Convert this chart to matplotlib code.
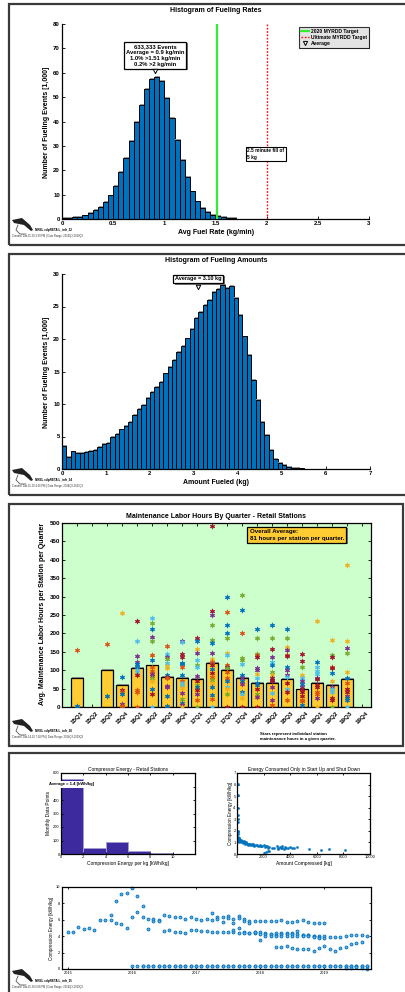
import matplotlib
matplotlib.use('Agg')
import matplotlib.pyplot as plt
from matplotlib.patches import Rectangle, Polygon
from matplotlib.lines import Line2D
import matplotlib.patheffects as pe
import numpy as np

plt.rcParams['font.family'] = ['Liberation Sans', 'DejaVu Sans']

# ---------------- DATA ----------------
rate_bin_width = 0.05
rate_counts = [0.3, 0.5, 0.7, 1.0, 1.5, 2.6, 3.6, 4.8, 7.0, 9.7,
               13.7, 19.2, 24.9, 32.0, 39.7, 46.9, 53.5, 57.5, 58.3, 56.6,
               49.8, 41.6, 32.6, 24.2, 17.2, 11.3, 7.2, 4.4, 2.8, 1.8,
               1.2, 0.7, 0.45, 0.3, 0.2, 0.15, 0.12, 0.1, 0.08, 0.07,
               0.06, 0.05, 0.05, 0.04, 0.04, 0.03, 0.03, 0.03, 0.02, 0.02,
               0.02, 0.02, 0.02, 0.01, 0.01, 0.01, 0.01, 0.01, 0.01, 0.01]
rate_avg = 0.91
rate_avg_marker_y = 60.7
target_2020 = 1.515
target_ultimate = 2.0
rate_note = "633,333 Events\nAverage = 0.9 kg/min\n1.0% >1.51 kg/min\n0.2% >2 kg/min"

amount_bin_width = 0.1
amount_counts = [3.6, 1.9, 2.7, 2.5, 2.45, 2.6, 2.8, 3.0, 3.4, 3.85,
                 4.0, 4.9, 5.4, 6.1, 6.6, 7.3, 8.3, 9.3, 9.9, 10.9,
                 11.9, 12.6, 13.4, 14.7, 15.7, 16.8, 18.0, 19.0, 20.1, 21.6,
                 23.2, 24.2, 25.2, 26.0, 27.2, 27.7, 28.35, 27.8, 28.2, 26.3,
                 23.7, 20.4, 17.6, 13.7, 10.6, 7.3, 5.2, 2.9, 1.6, 1.0,
                 0.6, 0.35, 0.2, 0.12, 0.08, 0.05, 0.04, 0.03, 0.02, 0.02,
                 0.02, 0.01, 0.01, 0.01, 0.01, 0.01, 0.01, 0.01, 0.01, 0.01]
amount_avg = 3.10
amount_avg_marker_y = 28.0

quarters = ['15Q1', '15Q2', '15Q3', '15Q4', '16Q1', '16Q2', '16Q3', '16Q4',
            '17Q1', '17Q2', '17Q3', '17Q4', '18Q1', '18Q2', '18Q3', '18Q4',
            '19Q1', '19Q2', '19Q3', '19Q4']
quarter_avg_hours = [80, 0, 100, 61, 106, 113, 82, 80, 77, 120, 100, 80,
                     65, 66, 77, 48, 65, 61, 76, 0]
star_values = [
    [155, 3],
    [],
    [172, 29],
    [255, 82, 47, 40, 36, 8, 4],
    [234, 180, 139, 123, 117, 110, 100, 96, 88, 45, 40, 0],
    [241, 227, 212, 191, 180, 142, 140, 128, 110, 98, 90, 85, 78, 72, 48, 36, 0],
    [165, 145, 136, 130, 120, 112, 105, 88, 82, 78, 58, 55, 30, 2],
    [180, 176, 145, 135, 119, 116, 108, 88, 72, 65, 58, 52, 38, 22, 10, 5, 0],
    [187, 178, 157, 148, 128, 115, 108, 85, 70, 60, 55, 45, 35, 18, 0],
    [492, 260, 249, 222, 182, 173, 148, 130, 122, 115, 102, 92, 82, 73, 65, 55, 32, 22, 0],
    [299, 257, 222, 202, 188, 148, 142, 115, 110, 105, 95, 80, 72, 55, 48, 34, 0],
    [305, 263, 201, 133, 128, 118, 86, 80, 70, 62, 40, 35, 25, 0],
    [211, 188, 145, 140, 135, 105, 100, 90, 78, 65, 60, 48, 35, 28, 0],
    [222, 188, 158, 135, 122, 115, 95, 88, 78, 74, 70, 55, 38, 20, 5],
    [211, 188, 162, 155, 142, 138, 108, 100, 88, 82, 65, 48, 40, 18],
    [143, 125, 108, 88, 78, 70, 62, 55, 48, 40, 30, 20, 15, 5],
    [235, 122, 110, 98, 90, 80, 75, 60, 55, 42, 35, 25, 0],
    [182, 140, 135, 110, 105, 93, 70, 55, 50, 40, 25, 20, 0],
    [387, 178, 160, 148, 95, 80, 65, 50, 40, 30, 25, 18, 0],
    [],
]
star_colors = [
    [1, 0],
    [],
    [1, 0],
    [2, 0, 6, 1, 0, 3, 1],
    [6, 5, 3, 3, 0, 0, 5, 5, 6, 1, 1, 1],
    [5, 4, 0, 3, 4, 2, 1, 0, 1, 1, 3, 3, 4, 2, 0, 6, 5],
    [1, 5, 3, 4, 5, 2, 2, 0, 6, 1, 3, 3, 0, 0],
    [3, 5, 6, 6, 0, 0, 1, 0, 1, 5, 5, 2, 3, 4, 0, 3, 2],
    [6, 0, 2, 3, 5, 4, 5, 3, 6, 4, 0, 6, 3, 1, 4],
    [6, 6, 3, 4, 4, 0, 3, 2, 1, 6, 0, 6, 1, 4, 2, 0, 0, 1, 5],
    [0, 1, 0, 0, 4, 2, 5, 1, 6, 4, 1, 1, 0, 5, 2, 4, 6],
    [4, 0, 1, 4, 4, 5, 0, 3, 0, 3, 0, 5, 2, 6],
    [0, 4, 4, 1, 6, 3, 3, 2, 5, 0, 0, 6, 4, 3, 6],
    [0, 4, 6, 3, 5, 0, 4, 2, 6, 6, 6, 3, 5, 3, 1],
    [0, 4, 2, 3, 1, 6, 0, 3, 3, 5, 6, 5, 6, 1],
    [6, 6, 4, 2, 5, 3, 0, 3, 6, 6, 6, 1, 1, 0],
    [2, 0, 5, 5, 5, 3, 6, 6, 6, 1, 1, 3, 2],
    [2, 4, 6, 1, 6, 0, 2, 3, 5, 5, 6, 6, 4],
    [2, 2, 3, 4, 2, 0, 1, 6, 6, 3, 0, 0, 5],
    [],
]
overall_avg_text = "Overall Average:\n81 hours per station per quarter."

comp_edges = [0, 2, 4, 6, 8, 10, 12]
comp_counts = [555, 42, 88, 25, 5, 0]

scatter_amount = [60, 70, 80, 50, 90, 60, 70, 100, 50, 80, 120, 150, 40, 100, 130, 200, 180,
                  250, 300, 350, 400, 450, 500, 550, 600, 650, 700, 750, 800, 850, 900,
                  950, 1000, 1100, 1200, 1300, 1400, 1500, 1600, 1700, 1800, 1900, 2000,
                  2100, 2200, 2300, 2400, 2600, 2800, 3000, 3100, 3200, 3300, 3400, 3500,
                  3600, 3700, 3800, 4000, 4100, 4300, 4500, 5400, 6300, 6900, 8100,
                  2050, 2150, 2300, 2400, 300, 500, 700, 1150, 1250, 1750, 2250, 3050, 3350]
scatter_energy = [6.05, 5.1, 4.0, 3.4, 3.0, 2.8, 2.0, 1.9, 1.7, 1.5, 1.4, 1.3, 1.2, 1.25, 1.35, 1.1, 1.0,
                  1.25, 1.0, 1.1, 1.15, 0.95, 1.05, 1.0, 0.9, 0.95, 1.0, 0.85, 0.9, 0.8, 0.85,
                  0.9, 0.8, 0.75, 0.9, 0.7, 0.8, 0.75, 0.7, 0.8, 0.65, 0.7, 0.75,
                  0.6, 0.65, 0.55, 0.6, 0.55, 0.5, 0.65, 0.45, 0.6, 0.5, 0.55, 0.45,
                  0.6, 0.5, 0.55, 0.6, 0.55, 0.5, 0.6, 0.45, 0.35, 0.4, 0.35,
                  0.05, 0.15, 0.25, 0.3, 1.2, 1.1, 0.95, 0.85, 0.8, 0.7, 0.7, 0.55, 0.65]

ts_years = [2015, 2016, 2017, 2018, 2019]
ts_s1_start = 2015.0
ts_s1 = [4.5, 4.5, 5.1, 4.9, 5.0, 4.8, 6.0, 6.0, 6.6, 8.3, 9.1, 9.3,
         9.9, 8.9, 7.7, 6.1, 6.1, 6.0, 6.6, 6.5, 6.3, 6.3, 6.1, 6.3,
         6.1, 6.0, 6.1, 6.8, 6.4, 6.3, 6.5, 6.1, 6.5, 6.1, 5.8, 5.9,
         5.9, 5.9, 5.9, 5.9, 6.0, 5.7, 5.7, 5.8, 6.0, 5.7, 5.6, 5.6,
         5.6]
ts_s2_start = 2015 + 8 / 12
ts_s2 = [6.0, 5.6, 5.5, 5.0,
         6.3, 6.9, 6.3, 4.9, 5.8, 5.8, 4.6, 4.7, 4.5, 4.5, 4.4, 4.7,
         4.7, 4.6, 4.6, 4.5, 4.5, 4.5, 4.5, 4.5, 4.4, 4.5, 4.4, 4.4,
         4.5, 4.4, 4.3, 4.4, 4.4, 4.4, 4.4, 4.3, 4.2, 4.1, 4.0, 4.0,
         4.0, 3.9, 3.9, 3.9, 4.0, 4.1, 4.1, 4.1, 4.0]
ts_s3_start = 2017 + 3 / 12
ts_s3 = [6.0, 6.1, 5.7, 6.2, 5.6, 6.2, 5.8, 5.6, 4.5,
         4.3, 4.3, 4.3, 4.2, 4.3, 4.3, 4.3, 4.6, 4.2, 4.1, 4.0, 3.9]
ts_s4_start = 2017 + 7 / 12
ts_s4 = [4.8, 5.0, 4.4, 4.4, 4.5, 3.5,
         4.0, 4.0, 4.0, 4.0, 4.0, 4.0, 4.0, 4.0, 4.0, 3.9, 3.8, 3.8]
ts_s5_start = 2018 + 3 / 12
ts_s5 = [2.7, 2.7, 2.8, 2.6, 2.4, 2.4, 2.5, 2.2, 2.6, 2.8, 2.5, 2.2, 2.6, 2.7, 3.0, 3.2, 3.3]
ts_s6_start = 2016.0
ts_s6 = [0.4, 0.4, 0.4, 0.4, 0.4, 0.4, 0.4, 0.4, 0.4, 0.4, 0.4, 0.4,
         0.4, 0.4, 0.4, 0.4, 0.4, 0.4, 0.4, 0.4, 0.4, 0.4, 0.4, 0.4,
         0.4, 0.4, 0.4, 0.4, 0.4, 0.4, 0.4, 0.4, 0.4, 0.4, 0.4, 0.4,
         0.4, 0.4, 0.4, 0.4, 0.4, 0.4, 0.4, 0.4, 0.4]
ts_s7_start = 2016 + 2 / 12
ts_s7 = [0.35, 0.35, 0.35, 0.35, 0.35, 0.35, 0.35, 0.35, 0.35, 0.35,
         0.35, 0.35, 0.35, 0.35, 0.35, 0.35, 0.35, 0.35, 0.35, 0.35,
         0.35, 0.35, 0.35, 0.35, 0.35, 0.35, 0.35, 0.35, 0.35, 0.35,
         0.35, 0.35, 0.35, 0.35, 0.35, 0.35, 0.35, 0.35, 0.35, 0.35, 0.35, 0.35, 0.35]
ts_s8_start = 2019 + 4 / 12
ts_s8 = [0.15, 0.1, 0.2, 0.1, 0.05]

# ---------------- FIGURE ----------------
W, H = 406, 992
fig = plt.figure(figsize=(W / 100, H / 100), dpi=100)


def add_ax(l, t, r, b):
    return fig.add_axes([l / W, 1 - b / H, (r - l) / W, (b - t) / H])


def T(x, y, s, **kw):
    kw.setdefault('ha', 'center')
    kw.setdefault('va', 'center')
    return fig.text(x / W, 1 - y / H, s, **kw)


def frame(l, t, r, b):
    fig.add_artist(Rectangle((l / W, 1 - b / H), (r - l) / W, (b - t) / H,
                             transform=fig.transFigure, fill=False,
                             ec='#3a3a3a', lw=1.6, zorder=10))


def logo(y0, code, created):
    # simple fuel-nozzle glyph
    xs = np.array([12, 22, 30, 33, 31, 24, 14])
    ys = np.array([y0 - 9, y0 - 11, y0 - 4, y0 + 1, y0 + 2, y0 - 4, y0 - 6])
    fig.add_artist(Polygon(np.c_[xs / W, 1 - ys / H], closed=True,
                           transform=fig.transFigure, fc='#222222', ec='none'))
    fig.add_artist(Line2D([18 / W, 16 / W, 20 / W, 26 / W], [1 - (y0 - 4) / H, 1 - (y0 + 1) / H,
                                                           1 - (y0 + 5) / H, 1 - (y0 + 5) / H],
                          transform=fig.transFigure, color='#555555', lw=0.6))
    T(35, y0 + 1, code, ha='left', fontsize=2.2, fontweight='bold')
    T(12, y0 + 7, created, ha='left', fontsize=1.9, color='#333333')


shadow = [pe.SimplePatchShadow(offset=(0.6, 0.6), shadow_rgbFace='#9a9a9a', alpha=1.0), pe.Normal()]
box_shadow = [pe.SimplePatchShadow(offset=(1.0, -1.0), shadow_rgbFace='#777777', alpha=1.0), pe.Normal()]


def style_ax(ax, size=4.3, bold=True, box=False):
    ax.tick_params(direction='in', length=2, width=0.6, labelsize=size, pad=1.5,
                   top=box, right=box)
    for s in ['top', 'right']:
        ax.spines[s].set_visible(box)
    for s in ax.spines.values():
        s.set_linewidth(0.9)
    if bold:
        for lbl in ax.get_xticklabels() + ax.get_yticklabels():
            lbl.set_fontweight('bold')


# frames
frame(9, 4, 412, 245)
frame(9, 254, 412, 495)
frame(9, 504, 403, 746)
frame(9, 753, 412, 1000)

# ---------- Panel 1: fueling rates ----------
ax1 = add_ax(62, 24, 369, 219)
rate_left = np.arange(len(rate_counts)) * rate_bin_width
bars = ax1.bar(rate_left, rate_counts, width=rate_bin_width, align='edge',
               color='#0072BD', edgecolor='black', linewidth=0.7)
for b in bars:
    b.set_path_effects(shadow)
ax1.axvline(target_2020, color='#33EE33', lw=1.6, zorder=3)
ax1.axvline(target_ultimate, color='red', lw=1.0, ls=(0, (1.2, 1.2)), zorder=3)
ax1.plot([rate_avg], [rate_avg_marker_y], marker='v', ms=3.2, mfc='white', mec='black', mew=0.7,
         ls='none', zorder=4)
ax1.set_xlim(0, 3)
ax1.set_ylim(0, 80)
ax1.set_xticks([0, 0.5, 1, 1.5, 2, 2.5, 3])
ax1.set_xticklabels(['0', '0.5', '1', '1.5', '2', '2.5', '3'])
ax1.set_yticks(range(0, 81, 10))
style_ax(ax1)
t = ax1.text(rate_avg, 62.5, rate_note, ha='center', va='bottom', fontsize=4.2, fontweight='bold',
             linespacing=1.25,
             bbox=dict(boxstyle='square,pad=0.35', fc='white', ec='black', lw=0.9))
t.get_bbox_patch().set_path_effects(box_shadow)
t = ax1.text(1.81, 26.7, "2.5 minute fill of\n5 kg", ha='left', va='center', fontsize=3.4,
             fontweight='bold', linespacing=1.3,
             bbox=dict(boxstyle='square,pad=0.3', fc='white', ec='black', lw=0.8))
t.get_bbox_patch().set_path_effects(box_shadow)
handles = [Line2D([], [], color='#33EE33', lw=1.6),
           Line2D([], [], color='red', lw=1.0, ls=(0, (1.2, 1.2))),
           Line2D([], [], marker='v', ms=3, mfc='white', mec='black', mew=0.7, ls='none')]
leg = ax1.legend(handles, ['2020 MYRDD Target', 'Ultimate MYRDD Target', 'Average'],
                 loc='upper right', bbox_to_anchor=(1.0, 0.985),
                 prop={'weight': 'bold', 'size': 3.6}, frameon=True, fancybox=False,
                 edgecolor='black', handlelength=1.6, handletextpad=0.5, borderpad=0.35,
                 labelspacing=0.25, borderaxespad=0.0)
leg.get_frame().set_linewidth(0.8)
leg.get_frame().set_path_effects(box_shadow)
T(216, 10.5, 'Histogram of Fueling Rates', fontsize=5, fontweight='bold')
T(47, 122, 'Number of Fueling Events [1,000]', rotation=90, fontsize=5, fontweight='bold')
T(216, 233, 'Avg Fuel Rate (kg/min)', fontsize=5, fontweight='bold')
logo(229, 'NREL cdpRETAIL_infr_32', 'Created: Jan-15-20 3:39 PM | Data Range: 2014Q3-2019Q3')

# ---------- Panel 2: fueling amounts ----------
ax2 = add_ax(62, 274, 370, 469)
amt_left = np.arange(len(amount_counts)) * amount_bin_width
bars = ax2.bar(amt_left, amount_counts, width=amount_bin_width, align='edge',
               color='#0072BD', edgecolor='black', linewidth=0.7)
for b in bars:
    b.set_path_effects(shadow)
ax2.plot([amount_avg], [amount_avg_marker_y], marker='v', ms=3.2, mfc='white', mec='black', mew=0.7,
         ls='none', zorder=4)
ax2.set_xlim(0, 7)
ax2.set_ylim(0, 30)
ax2.set_xticks(range(0, 8))
ax2.set_yticks(range(0, 31, 5))
style_ax(ax2)
t = ax2.text(amount_avg, 28.85, 'Average = 3.10 kg', ha='center', va='bottom', fontsize=4.0,
             fontweight='bold',
             bbox=dict(boxstyle='square,pad=0.3', fc='white', ec='black', lw=0.9))
t.get_bbox_patch().set_path_effects(box_shadow)
T(216, 260, 'Histogram of Fueling Amounts', fontsize=5, fontweight='bold')
T(47, 372, 'Number of Fueling Events [1,000]', rotation=90, fontsize=5, fontweight='bold')
T(216, 483, 'Amount Fueled (kg)', fontsize=5, fontweight='bold')
logo(479, 'NREL cdpRETAIL_infr_34', 'Created: Jan-15-20 4:26 PM | Data Range: 2014Q3-2019Q3')

# ---------- Panel 3: maintenance ----------
mcolors = ['#0072BD', '#D95319', '#EDB120', '#7E2F8E', '#77AC30', '#4DBEEE', '#A2142F']
ax3 = add_ax(62, 523, 371, 707)
ax3.set_facecolor('#CCFFCC')
qx = np.arange(1, len(quarters) + 1)
bars = ax3.bar(qx, quarter_avg_hours, width=0.8, color='#FFCC33', edgecolor='black', linewidth=0.9,
               zorder=2)
for b, v in zip(bars, quarter_avg_hours):
    if v > 0:
        b.set_path_effects(shadow)
    else:
        b.set_visible(False)
for i, (vals, cols) in enumerate(zip(star_values, star_colors)):
    for v, c in zip(vals, cols):
        ax3.plot(qx[i], v, marker=(6, 1, 0), ms=4.0, color=mcolors[c], mec=mcolors[c],
                 mew=0.3, ls='none', zorder=3)
ax3.set_xlim(0, 20.62)
ax3.set_ylim(0, 500)
ax3.set_xticks(qx)
ax3.set_xticklabels(quarters, rotation=45, ha='center', va='top')
ax3.set_yticks(range(0, 501, 50))
style_ax(ax3, size=4.5, box=True)
ax3.tick_params(axis='x', pad=2.5)
t = ax3.text(0.607, 0.935, overall_avg_text, transform=ax3.transAxes, ha='left', va='center',
             fontsize=4.4, fontweight='bold', linespacing=1.3, zorder=5,
             bbox=dict(boxstyle='square,pad=0.4', fc='#FFCC33', ec='black', lw=0.9))
t.get_bbox_patch().set_path_effects(box_shadow)
T(216, 517, 'Maintenance Labor Hours By Quarter - Retail Stations', fontsize=5, fontweight='bold')
T(43, 614, 'Avg. Maintenance Labor Hours per Station per Quarter', rotation=90, fontsize=5,
  fontweight='bold')
T(260, 736.5, 'Stars represent individual station\nmaintenance hours in a given quarter.',
  ha='left', fontsize=3.1, fontweight='bold', linespacing=1.2)
logo(730, 'NREL cdpRETAIL_infr_28', 'Created: Jan-14-20 7:18 PM | Data Range: 2014Q3-2019Q3')

# ---------- Panel 4a: compressor energy histogram ----------
ax4 = add_ax(61, 773, 195, 854)
ax4.bar(comp_edges[:-1], comp_counts, width=np.diff(comp_edges), align='edge',
        color='#3E2A9F', edgecolor='#A49CCF', linewidth=0.7)
ax4.set_xlim(0, 12)
ax4.set_ylim(0, 600)
ax4.set_xticks([0, 2, 4, 6, 8, 10])
ax4.set_yticks(range(0, 601, 100))
style_ax(ax4, size=2.9, bold=False, box=True)
ax4.tick_params(length=1.5, pad=1)
ax4.text(-1.05, 515, 'Average = 1.4 [kWh/kg]', ha='left', va='center', fontsize=3.0,
         fontweight='bold', bbox=dict(boxstyle='square,pad=0.25', fc='white', ec='none'),
         clip_on=False, zorder=5)
T(128, 769, 'Compressor Energy - Retail Stations', fontsize=3.5)
T(128, 864, 'Compression Energy per kg [kWh/kg]', fontsize=3.5)
T(49, 813, 'Monthly Data Points', rotation=90, fontsize=3.5)

# ---------- Panel 4b: scatter ----------
ax5 = add_ax(237, 773, 370, 854)
ax5.plot(scatter_amount, scatter_energy, ls='none', marker='o', ms=1.6, color='#0072BD',
         mec='#0072BD', mew=0.3)
ax5.set_xlim(0, 10000)
ax5.set_ylim(0, 7)
ax5.set_xticks(range(0, 10001, 2000))
ax5.set_yticks(range(0, 8))
style_ax(ax5, size=2.9, bold=False, box=True)
ax5.tick_params(length=1.5, pad=1)
T(304, 769, 'Energy Consumed Only in Start Up and Shut Down', fontsize=3.5)
T(304, 864, 'Amount Compressed [kg]', fontsize=3.5)
T(231, 813, 'Compression Energy [kWh/kg]', rotation=90, fontsize=3.3)

# ---------- Panel 4c: time series ----------
ax6 = add_ax(62, 887, 371, 969)
for start, vals in [(ts_s1_start, ts_s1), (ts_s2_start, ts_s2), (ts_s3_start, ts_s3),
                    (ts_s4_start, ts_s4), (ts_s5_start, ts_s5), (ts_s6_start, ts_s6),
                    (ts_s7_start, ts_s7), (ts_s8_start, ts_s8)]:
    xs = start + np.arange(len(vals)) / 12.0
    ax6.plot(xs, vals, ls='none', marker='o', ms=2.1, mfc='#6AAEE0', mec='#0072BD', mew=0.6,
             clip_on=False)
ax6.set_xlim(2014.91, 2019.73)
ax6.set_ylim(0, 10)
ax6.set_xticks(ts_years)
ax6.set_xticklabels([str(y) for y in ts_years])
ax6.set_yticks(range(0, 11, 2))
style_ax(ax6, size=2.9, bold=False, box=True)
ax6.tick_params(length=1.5, pad=1.5)
T(52, 928, 'Compression Energy [kWh/kg]', rotation=90, fontsize=3.3)
logo(980, 'NREL cdpRETAIL_infr_35', 'Created: Jan-15-20 6:08 PM | Data Range: 2014Q3-2019Q3')

fig.savefig('out.png', dpi=100)
